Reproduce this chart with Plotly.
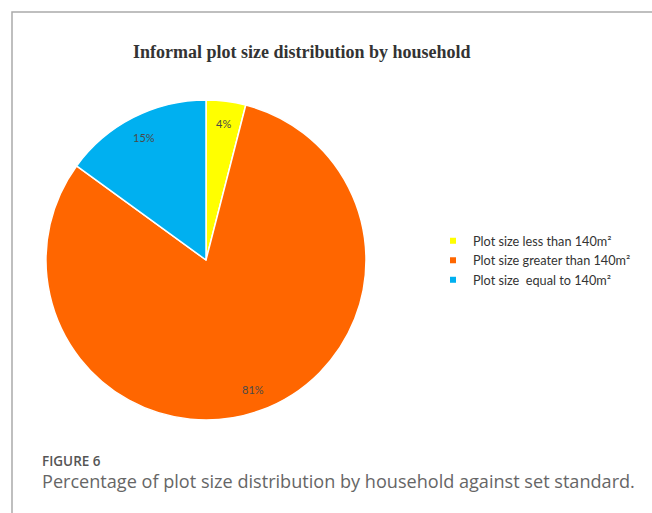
import math
import plotly.graph_objects as go

categories = ["Plot size less than 140m²", "Plot size greater than 140m²", "Plot size  equal to 140m²"]
values = [4, 81, 15]
colors = ["#FFFF00", "#FF6600", "#00B0F0"]

title_text = "Informal plot size distribution by household"
fig_label = "FIGURE 6"
caption = "Percentage of plot size distribution by household against set standard."

W, H = 652, 513
cx, cy, r = 206, 260, 160
label_frac = 0.86

fig = go.Figure()
fig.add_trace(go.Pie(
    labels=categories, values=values, sort=False, direction="clockwise", rotation=0,
    marker=dict(colors=colors, line=dict(color="white", width=1.5)),
    textinfo="none",
    showlegend=False, hoverinfo="label+percent",
    domain=dict(x=[(cx - r) / W, (cx + r) / W], y=[(H - cy - r) / H, (H - cy + r) / H]),
))

for name, c in zip(categories, colors):
    fig.add_trace(go.Scatter(x=[None], y=[None], mode="markers", name=name,
                             marker=dict(symbol="square", size=6, color=c)))

fig.update_xaxes(visible=False)
fig.update_yaxes(visible=False)

# percentage labels placed along each slice's mid-angle
annotations = []
total = sum(values)
cum = 0
for v in values:
    mid = (cum + v / 2) / total * 2 * math.pi
    cum += v
    px = cx + label_frac * r * math.sin(mid)
    py = cy - label_frac * r * math.cos(mid)
    annotations.append(dict(text=f"{round(100 * v / total)}%", x=px / W, y=(H - py) / H,
                            xref="paper", yref="paper", showarrow=False,
                            xanchor="center", yanchor="middle",
                            font=dict(family="Lato, Open Sans, sans-serif", size=11, color="#4a4a4a")))

annotations += [
    dict(text=f"<b>{title_text}</b>", x=302 / W, y=(H - 52) / H, xref="paper", yref="paper",
         xanchor="center", yanchor="middle", showarrow=False,
         font=dict(family="Liberation Serif, Times New Roman, serif", size=18, color="#333333")),
    dict(text=fig_label, x=40 / W, y=(H - 461) / H, xref="paper", yref="paper",
         xanchor="left", yanchor="middle", showarrow=False,
         font=dict(family="Open Sans, sans-serif", size=13.5, color="#555555", weight=600)),
    dict(text=caption, x=40 / W, y=(H - 481) / H, xref="paper", yref="paper",
         xanchor="left", yanchor="middle", showarrow=False,
         font=dict(family="Open Sans, sans-serif", size=18.1, color="#666666")),
]

fig.update_layout(
    width=W, height=H, margin=dict(l=0, r=0, t=0, b=0),
    paper_bgcolor="white", plot_bgcolor="white",
    legend=dict(x=433 / W, y=(H - 226) / H, xanchor="left", yanchor="top",
                font=dict(family="Lato, Open Sans, sans-serif", size=12.7, color="#333333"),
                itemwidth=30, tracegroupgap=0, bgcolor="rgba(0,0,0,0)"),
    shapes=[dict(type="path", xref="paper", yref="paper",
                 path=f"M {12/W} 0 L {12/W} {(H-12)/H} L 1 {(H-12)/H}",
                 line=dict(color="#AAAAAA", width=1.5))],
    annotations=annotations,
)

fig.write_html("out.html", config={"displayModeBar": False},
               post_script="document.body.style.margin='0';")
